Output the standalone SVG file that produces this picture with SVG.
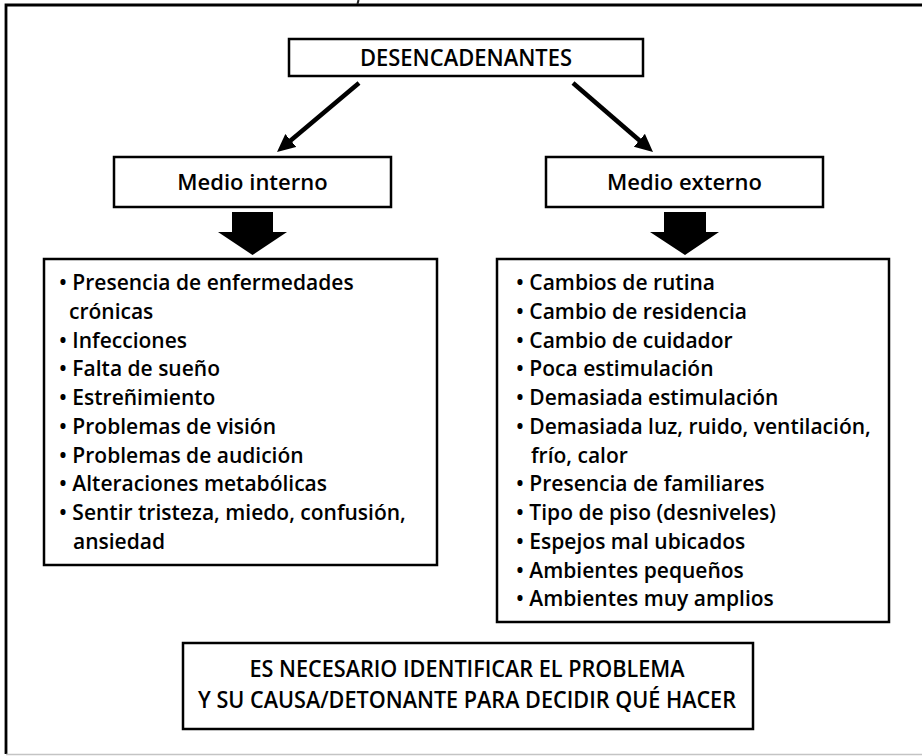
<svg xmlns="http://www.w3.org/2000/svg" width="922" height="756" viewBox="0 0 922 756">
<defs>
<style>
.box{fill:#fff;stroke:#000;stroke-width:2.5}
.t{font-family:"Open Sans","Noto Sans",sans-serif;font-weight:600;fill:#000}
.title{font-size:22px;text-anchor:middle}
.caps{font-size:23.5px;text-anchor:middle}
.item{font-size:21px}
.conn{stroke:#000;stroke-width:4.5;fill:none}
.block{fill:#000}
</style>
<marker id="ah" markerUnits="userSpaceOnUse" markerWidth="20" markerHeight="18" refX="6" refY="8.5" orient="auto">
<path d="M0,0 L18,8.5 L0,17 z" fill="#000"/>
</marker>
</defs>
<rect width="922" height="756" fill="#fff"/>
<g id="frame">
<path d="M6,754 L6,5 L922,5" fill="none" stroke="#000" stroke-width="2.8"/>
<path d="M6,754.5 L922,754.5" stroke="#c4c4c4" stroke-width="1.5"/>
<path d="M358.5,0 L357.5,4" stroke="#222" stroke-width="2"/>
</g>
<g id="connectors">
<line class="conn" x1="359" y1="83" x2="286.2" y2="144.3" marker-end="url(#ah)"/>
<line class="conn" x1="573" y1="83" x2="643.9" y2="144.2" marker-end="url(#ah)"/>
<polygon class="block" points="232,212 273,212 273,232 287,232 252.5,255 218,232 232,232"/>
<polygon class="block" points="664,212 706,212 706,232 719,232 685,255 650,232 664,232"/>
</g>
<g id="desencadenantes">
<rect class="box" x="289" y="39" width="354" height="37"/>
<text class="t caps" x="466" y="65.5" textLength="212" lengthAdjust="spacingAndGlyphs">DESENCADENANTES</text>
</g>
<g id="medio-interno">
<rect class="box" x="114" y="157" width="277" height="50"/>
<text class="t title" x="252.5" y="190">Medio interno</text>
</g>
<g id="medio-externo">
<rect class="box" x="546" y="157" width="277" height="50"/>
<text class="t title" x="684.5" y="190">Medio externo</text>
</g>
<g id="lista-interno">
<rect class="box" x="44" y="259" width="393" height="306"/>
<text class="t item" x="59" y="290">• Presencia de enfermedades</text>
<text class="t item" x="69" y="318.75">crónicas</text>
<text class="t item" x="59" y="347.5">• Infecciones</text>
<text class="t item" x="59" y="376.25">• Falta de sueño</text>
<text class="t item" x="59" y="405">• Estreñimiento</text>
<text class="t item" x="59" y="433.75">• Problemas de visión</text>
<text class="t item" x="59" y="462.5">• Problemas de audición</text>
<text class="t item" x="59" y="491.25">• Alteraciones metabólicas</text>
<text class="t item" x="59" y="520">• Sentir tristeza, miedo, confusión,</text>
<text class="t item" x="73" y="548.75">ansiedad</text>
</g>
<g id="lista-externo">
<rect class="box" x="497" y="259" width="392" height="363"/>
<text class="t item" x="516" y="290">• Cambios de rutina</text>
<text class="t item" x="516" y="318.75">• Cambio de residencia</text>
<text class="t item" x="516" y="347.5">• Cambio de cuidador</text>
<text class="t item" x="516" y="376.25">• Poca estimulación</text>
<text class="t item" x="516" y="405">• Demasiada estimulación</text>
<text class="t item" x="516" y="433.75">• Demasiada luz, ruido, ventilación,</text>
<text class="t item" x="531" y="462.5">frío, calor</text>
<text class="t item" x="516" y="491.25">• Presencia de familiares</text>
<text class="t item" x="516" y="520">• Tipo de piso (desniveles)</text>
<text class="t item" x="516" y="548.75">• Espejos mal ubicados</text>
<text class="t item" x="516" y="577.5">• Ambientes pequeños</text>
<text class="t item" x="516" y="606.25">• Ambientes muy amplios</text>
</g>
<g id="conclusion">
<rect class="box" x="183" y="643" width="570" height="86"/>
<text class="t caps" x="467" y="677" textLength="435" lengthAdjust="spacingAndGlyphs">ES NECESARIO IDENTIFICAR EL PROBLEMA</text>
<text class="t caps" x="467" y="708" textLength="538" lengthAdjust="spacingAndGlyphs">Y SU CAUSA/DETONANTE PARA DECIDIR QUÉ HACER</text>
</g>
</svg>
